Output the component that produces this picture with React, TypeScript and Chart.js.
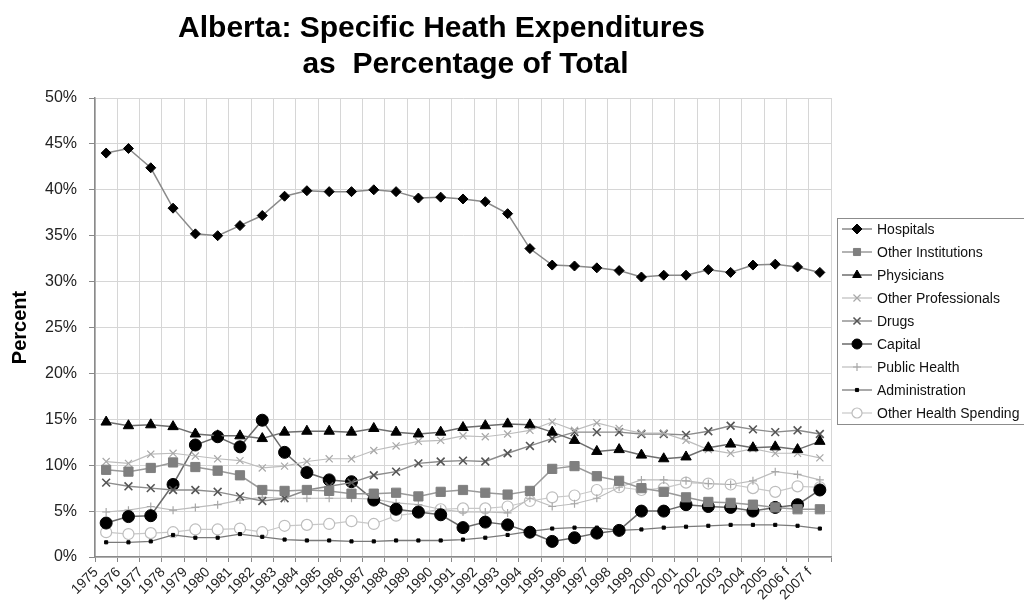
import React, { useEffect, useRef } from 'react';
import { Chart, registerables } from 'chart.js';
import { drawPoint } from 'chart.js/helpers';

Chart.register(...registerables);

const years = [
  '1975', '1976', '1977', '1978', '1979', '1980', '1981', '1982', '1983', '1984',
  '1985', '1986', '1987', '1988', '1989', '1990', '1991', '1992', '1993', '1994',
  '1995', '1996', '1997', '1998', '1999', '2000', '2001', '2002', '2003', '2004',
  '2005', '2006 f', '2007 f',
];

const hospitals = [44.0, 44.5, 42.4, 38.0, 35.2, 35.0, 36.1, 37.2, 39.3, 39.9, 39.8, 39.8, 40.0, 39.8, 39.1, 39.2, 39.0, 38.7, 37.4, 33.6, 31.8, 31.7, 31.5, 31.2, 30.5, 30.7, 30.7, 31.3, 31.0, 31.8, 31.9, 31.6, 31.0];
const otherInstitutions = [9.5, 9.3, 9.7, 10.3, 9.8, 9.4, 8.9, 7.3, 7.2, 7.3, 7.2, 6.9, 6.9, 7.0, 6.6, 7.1, 7.3, 7.0, 6.8, 7.2, 9.6, 9.9, 8.8, 8.3, 7.5, 7.1, 6.5, 6.0, 5.9, 5.7, 5.4, 5.2, 5.2];
const physicians = [14.7, 14.3, 14.4, 14.2, 13.4, 13.2, 13.2, 12.9, 13.6, 13.7, 13.7, 13.6, 14.0, 13.6, 13.4, 13.6, 14.1, 14.3, 14.5, 14.4, 13.6, 12.7, 11.5, 11.7, 11.1, 10.7, 10.9, 11.9, 12.3, 11.9, 12.0, 11.7, 12.6];
const otherProfessionals = [10.4, 10.2, 11.2, 11.3, 11.0, 10.7, 10.5, 9.7, 9.9, 10.4, 10.7, 10.7, 11.6, 12.1, 12.6, 12.7, 13.2, 13.1, 13.4, 13.8, 14.7, 13.8, 14.6, 14.0, 13.5, 13.5, 12.7, 11.7, 11.3, 11.8, 11.3, 11.3, 10.8];
const drugs = [8.1, 7.7, 7.5, 7.3, 7.3, 7.1, 6.6, 6.1, 6.4, 7.3, 7.7, 8.1, 8.9, 9.3, 10.2, 10.4, 10.5, 10.4, 11.3, 12.1, 12.9, 13.6, 13.6, 13.6, 13.4, 13.4, 13.3, 13.7, 14.3, 13.9, 13.6, 13.8, 13.4];
const capital = [3.7, 4.4, 4.5, 7.9, 12.2, 13.1, 12.0, 14.9, 11.4, 9.2, 8.4, 8.2, 6.2, 5.2, 4.9, 4.6, 3.2, 3.8, 3.5, 2.7, 1.7, 2.1, 2.6, 2.9, 5.0, 5.0, 5.7, 5.5, 5.4, 5.0, 5.4, 5.7, 7.3];
const publicHealth = [4.9, 5.1, 5.5, 5.1, 5.4, 5.7, 6.2, 6.5, 6.4, 6.4, 6.4, 6.4, 6.3, 5.9, 5.7, 5.2, 4.9, 4.9, 4.8, 6.4, 5.5, 5.8, 6.4, 7.6, 8.4, 8.4, 8.3, 8.0, 7.9, 8.3, 9.3, 9.0, 8.4];
const administration = [1.6, 1.6, 1.7, 2.4, 2.1, 2.1, 2.5, 2.2, 1.9, 1.8, 1.8, 1.7, 1.7, 1.8, 1.8, 1.8, 1.9, 2.1, 2.4, 2.8, 3.1, 3.2, 3.2, 2.9, 3.0, 3.2, 3.3, 3.4, 3.5, 3.5, 3.5, 3.4, 3.1];
const otherHealthSpending = [2.7, 2.5, 2.6, 2.7, 3.0, 3.0, 3.1, 2.7, 3.4, 3.5, 3.6, 3.9, 3.6, 4.5, 4.8, 5.2, 5.3, 5.3, 5.5, 6.1, 6.5, 6.7, 7.3, 7.6, 7.3, 7.5, 8.1, 8.0, 7.9, 7.5, 7.1, 7.7, 7.6];

const yTicks = [0, 5, 10, 15, 20, 25, 30, 35, 40, 45, 50];

const titleLines = ['Alberta: Specific Heath Expenditures', 'as  Percentage of Total'];

const FONT = '"Liberation Sans", Arial, Helvetica, sans-serif';

type SeriesStyle = {
  label: string;
  data: number[];
  line: string;
  lineWidth: number;
  pointStyle: string;
  radius: number;
  fill: string;
  stroke: string;
  pointBorderWidth: number;
};

const series: SeriesStyle[] = [
  { label: 'Hospitals', data: hospitals, line: '#8a8a8a', lineWidth: 1.5, pointStyle: 'rectRot', radius: 5, fill: '#000', stroke: '#000', pointBorderWidth: 1 },
  { label: 'Other Institutions', data: otherInstitutions, line: '#9a9a9a', lineWidth: 1.5, pointStyle: 'rect', radius: 6.5, fill: '#7f7f7f', stroke: '#7f7f7f', pointBorderWidth: 1 },
  { label: 'Physicians', data: physicians, line: '#6e6e6e', lineWidth: 1.5, pointStyle: 'triangle', radius: 6, fill: '#000', stroke: '#000', pointBorderWidth: 1 },
  { label: 'Other Professionals', data: otherProfessionals, line: '#bdbdbd', lineWidth: 1.2, pointStyle: 'crossRot', radius: 5, fill: 'rgba(0,0,0,0)', stroke: '#a8a8a8', pointBorderWidth: 1.2 },
  { label: 'Drugs', data: drugs, line: '#8c8c8c', lineWidth: 1.4, pointStyle: 'crossRot', radius: 5.5, fill: 'rgba(0,0,0,0)', stroke: '#555', pointBorderWidth: 1.6 },
  { label: 'Capital', data: capital, line: '#6a6a6a', lineWidth: 1.5, pointStyle: 'circle', radius: 6, fill: '#000', stroke: '#000', pointBorderWidth: 1 },
  { label: 'Public Health', data: publicHealth, line: '#bdbdbd', lineWidth: 1.2, pointStyle: 'cross', radius: 4, fill: 'rgba(0,0,0,0)', stroke: '#a8a8a8', pointBorderWidth: 1.2 },
  { label: 'Administration', data: administration, line: '#7a7a7a', lineWidth: 1.3, pointStyle: 'rect', radius: 2.2, fill: '#000', stroke: '#000', pointBorderWidth: 1 },
  { label: 'Other Health Spending', data: otherHealthSpending, line: '#c8c8c8', lineWidth: 1.2, pointStyle: 'circle', radius: 5.5, fill: '#fff', stroke: '#bdbdbd', pointBorderWidth: 1.2 },
];

const titlePlugin = {
  id: 'twoLineTitle',
  afterDraw(chart: any) {
    const ctx = chart.ctx;
    ctx.save();
    ctx.fillStyle = '#000';
    ctx.font = `bold 30px ${FONT}`;
    ctx.textAlign = 'center';
    ctx.textBaseline = 'alphabetic';
    ctx.fillText(titleLines[0], 433.5, 28.5);
    ctx.fillText(titleLines[1], 457.5, 64.5);
    ctx.restore();
  },
};

const legendPlugin = {
  id: 'boxLegend',
  afterDraw(chart: any) {
    const ctx = chart.ctx;
    const left = chart.chartArea.right + 6;
    const top = 210;
    const width = 193;
    const rowH = 23;
    const height = rowH * series.length;
    ctx.save();
    ctx.strokeStyle = '#8c8c8c';
    ctx.lineWidth = 1;
    ctx.strokeRect(left + 0.5, top + 0.5, width, height - 1);
    ctx.font = `14px ${FONT}`;
    ctx.textAlign = 'left';
    ctx.textBaseline = 'middle';
    series.forEach((s, i) => {
      const cy = top + 11 + i * rowH;
      ctx.strokeStyle = s.line;
      ctx.lineWidth = s.lineWidth;
      ctx.beginPath();
      ctx.moveTo(left + 5, cy);
      ctx.lineTo(left + 35, cy);
      ctx.stroke();
      ctx.fillStyle = s.fill;
      ctx.strokeStyle = s.stroke;
      ctx.lineWidth = s.pointBorderWidth;
      drawPoint(ctx, { pointStyle: s.pointStyle as any, rotation: 0, radius: Math.min(s.radius, 5), borderWidth: s.pointBorderWidth }, left + 20, cy);
      ctx.fillStyle = '#111';
      ctx.fillText(s.label, left + 40, cy + 1);
    });
    ctx.restore();
  },
};

export default function App() {
  const ref = useRef<HTMLCanvasElement>(null);

  useEffect(() => {
    if (!ref.current) return;
    const chart = new Chart(ref.current, {
      type: 'line',
      data: {
        labels: years,
        datasets: series.map((s) => ({
          label: s.label,
          data: s.data,
          borderColor: s.line,
          borderWidth: s.lineWidth,
          pointStyle: s.pointStyle as any,
          pointRadius: s.radius,
          pointBackgroundColor: s.fill,
          pointBorderColor: s.stroke,
          pointBorderWidth: s.pointBorderWidth,
          tension: 0,
          fill: false,
        })),
      },
      options: {
        responsive: false,
        maintainAspectRatio: false,
        animation: false,
        layout: { padding: { top: 90, right: 193, left: 0, bottom: 0 } },
        plugins: {
          legend: { display: false },
          title: { display: false },
          tooltip: { enabled: false },
        },
        scales: {
          x: {
            type: 'category',
            offset: true,
            grid: { offset: true, color: '#d6d6d6', lineWidth: 1, tickLength: 5, tickColor: '#888' },
            border: { color: '#8a8a8a', width: 1.5 },
            ticks: {
              autoSkip: false,
              minRotation: 45,
              maxRotation: 45,
              labelOffset: -10,
              padding: 2,
              color: '#222',
              font: { family: FONT, size: 14 },
            },
            afterFit: (s: any) => { s.height = 44; },
          },
          y: {
            min: 0,
            max: 50,
            afterBuildTicks: (s: any) => { s.ticks = yTicks.map((v) => ({ value: v })); },
            grid: { color: '#d6d6d6', lineWidth: 1, tickLength: 6, tickColor: '#888' },
            border: { color: '#8a8a8a', width: 1.5 },
            ticks: {
              padding: 12,
              color: '#222',
              font: { family: FONT, size: 16 },
              callback: (v: any) => `${v}%`,
            },
            title: {
              display: true,
              text: 'Percent',
              color: '#000',
              font: { family: FONT, size: 20, weight: 'bold' },
              padding: { top: 0, bottom: 0 },
            },
            afterFit: (s: any) => { s.width = 87; },
          },
        },
      },
      plugins: [titlePlugin, legendPlugin],
    });
    return () => chart.destroy();
  }, []);

  return (
    <div style={{ width: 1016, height: 593 }}>
      <canvas ref={ref} width={1016} height={593} style={{ display: 'block' }} />
    </div>
  );
}
